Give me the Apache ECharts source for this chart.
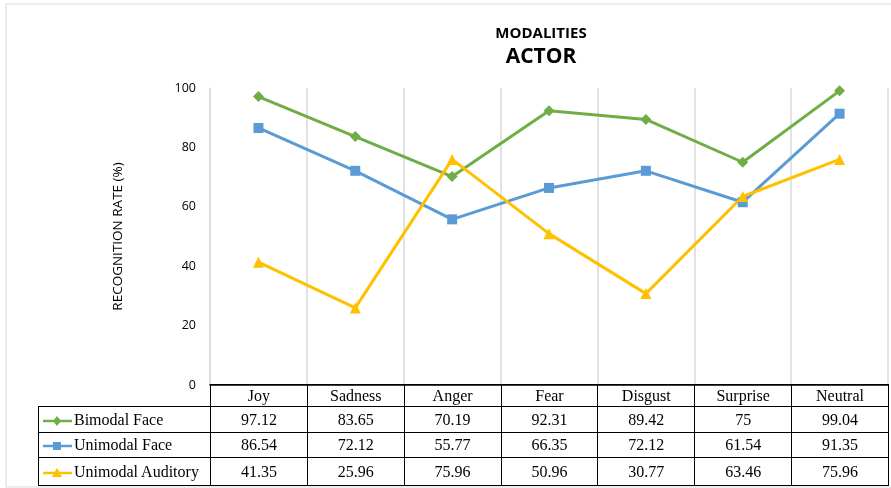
<!DOCTYPE html>
<html>
<head>
<meta charset="utf-8">
<script src="https://cdn.jsdelivr.net/npm/echarts@6/dist/echarts.min.js"></script>
<style>
  html, body { margin: 0; padding: 0; background: #fff; }
  #wrap { position: relative; width: 891px; height: 488px; }
  #myChart { position: absolute; left: 0; top: 0; width: 891px; height: 488px; }
  #tbl { position: absolute; left: 38px; top: 384px; border-collapse: collapse; table-layout: fixed;
         font-family: "Liberation Serif", "DejaVu Serif", serif; font-size: 16px; color: #000; }
  #tbl td { border: 1px solid #000; text-align: center; padding: 0; white-space: nowrap; overflow: hidden; }
  #tbl td.blank { border: none; }
  #tbl td.key { text-align: left; padding-left: 3px; }
  #tbl td.key svg { vertical-align: middle; margin-right: 1px; }
</style>
</head>
<body>
<div id="wrap">
  <div id="myChart"></div>
  <table id="tbl"></table>
</div>
<script>
var categories = ['Joy', 'Sadness', 'Anger', 'Fear', 'Disgust', 'Surprise', 'Neutral'];
var bimodalFace = [97.12, 83.65, 70.19, 92.31, 89.42, 75, 99.04];
var unimodalFace = [86.54, 72.12, 55.77, 66.35, 72.12, 61.54, 91.35];
var unimodalAuditory = [41.35, 25.96, 75.96, 50.96, 30.77, 63.46, 75.96];
var yTicks = [0, 20, 40, 60, 80, 100];

var seriesList = [
    {name: 'Bimodal Face', data: bimodalFace, color: '#70AD47', symbol: 'diamond', size: 11},
    {name: 'Unimodal Face', data: unimodalFace, color: '#5B9BD5', symbol: 'rect', size: 10},
    {name: 'Unimodal Auditory', data: unimodalAuditory, color: '#FFC000', symbol: 'triangle', size: 11}
];

var myChart = echarts.init(document.getElementById('myChart'));

myChart.setOption({
    animation: false,
    backgroundColor: '#fff',
    title: [
        {text: 'MODALITIES', left: 536, top: 21, textAlign: 'center',
         textStyle: {fontFamily: 'Open Sans', fontWeight: 'bold', fontSize: 15, color: '#000'}},
        {text: 'ACTOR', left: 536, top: 42, textAlign: 'center',
         textStyle: {fontFamily: 'Open Sans', fontWeight: 'bold', fontSize: 21, color: '#000'}}
    ],
    graphic: [
        {type: 'rect', shape: {x: 6, y: 4, width: 900, height: 483}, silent: true,
         style: {fill: 'none', stroke: '#d9d9d9', lineWidth: 1}}
    ],
    grid: {left: 210, right: 3, top: 88, bottom: 103},
    xAxis: {
        type: 'category', data: categories, boundaryGap: true,
        axisLine: {show: true, lineStyle: {color: '#000', width: 1.5}},
        axisTick: {show: false}, axisLabel: {show: false},
        splitLine: {show: true, lineStyle: {color: '#d9d9d9', width: 1.5}}
    },
    yAxis: {
        type: 'value', min: yTicks[0], max: yTicks[yTicks.length - 1], interval: 20,
        name: 'RECOGNITION RATE (%)', nameLocation: 'middle', nameGap: 85,
        nameTextStyle: {fontFamily: 'Open Sans', fontSize: 13.5, color: '#000'},
        axisLine: {show: true, lineStyle: {color: '#d9d9d9', width: 1.5}},
        axisTick: {show: false},
        axisLabel: {fontFamily: 'Open Sans', fontSize: 12.5, color: '#000', margin: 14},
        splitLine: {show: false}
    },
    series: seriesList.map(function (s) {
        return {
            name: s.name, type: 'line', data: s.data,
            symbol: s.symbol, symbolSize: s.size, showAllSymbol: true,
            lineStyle: {color: s.color, width: 3},
            itemStyle: {color: s.color}
        };
    })
});

// data table under the plot
function keySvg(s) {
    var m;
    if (s.symbol === 'diamond') m = '<polygon points="15,1 19,6 15,11 11,6" fill="' + s.color + '"/>';
    else if (s.symbol === 'rect') m = '<rect x="11" y="2" width="8" height="8" fill="' + s.color + '"/>';
    else m = '<polygon points="15,1 20,10 10,10" fill="' + s.color + '"/>';
    return '<svg width="31" height="12"><line x1="1" y1="6" x2="30" y2="6" stroke="' + s.color + '" stroke-width="2.5"/>' + m + '</svg>';
}

var colW = (888 - 210) / categories.length;
var html = '<colgroup><col style="width:172px">';
categories.forEach(function () { html += '<col style="width:' + colW + 'px">'; });
html += '</colgroup>';
html += '<tr style="height:22px"><td class="blank"></td>';
categories.forEach(function (c) { html += '<td>' + c + '</td>'; });
html += '</tr>';
var rowH = [26, 25, 28];
seriesList.forEach(function (s, i) {
    html += '<tr style="height:' + rowH[i] + 'px"><td class="key">' + keySvg(s) + s.name + '</td>';
    s.data.forEach(function (v) { html += '<td>' + v + '</td>'; });
    html += '</tr>';
});
var tbl = document.getElementById('tbl');
tbl.innerHTML = html;
tbl.style.width = (888 - 38) + 'px';

window.onresize = myChart.resize;
</script>
</body>
</html>
